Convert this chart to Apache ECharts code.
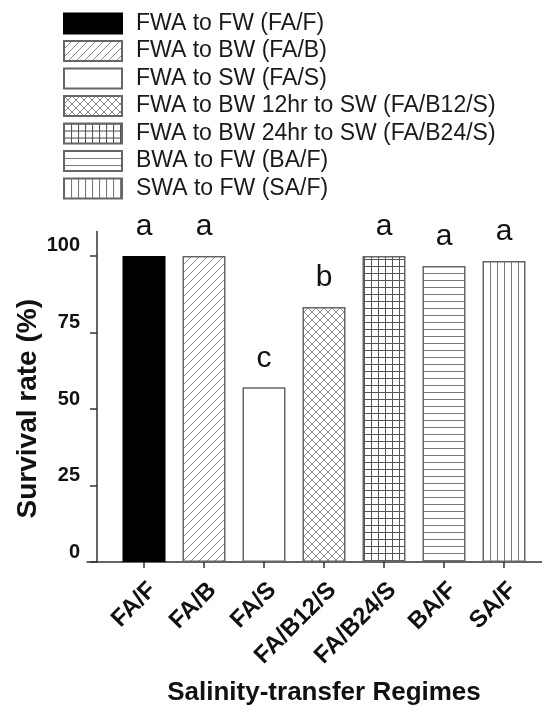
<!DOCTYPE html>
<html>
<head>
<meta charset="utf-8">
<style>
  html, body { margin: 0; padding: 0; background: #fff; }
  #chart { width: 542px; height: 710px; }
</style>
<script src="https://cdn.jsdelivr.net/npm/echarts@6/dist/echarts.min.js"></script>
</head>
<body>
<div id="chart"></div>
<script>
const categories = ["FA/F", "FA/B", "FA/S", "FA/B12/S", "FA/B24/S", "BA/F", "SA/F"];
const legendNames = [
  "FWA to FW (FA/F)",
  "FWA to BW (FA/B)",
  "FWA to SW (FA/S)",
  "FWA to BW 12hr to SW (FA/B12/S)",
  "FWA to BW 24hr to SW (FA/B24/S)",
  "BWA to FW (BA/F)",
  "SWA to FW (SA/F)",
];
const survival = [100, 100, 57.1, 83.3, 100, 96.7, 98.4];
const letters = ["a", "a", "c", "b", "a", "a", "a"];
const yTicks = [0, 25, 50, 75, 100];

const FONT = "'Liberation Sans', Arial, sans-serif";

// small tiles used as repeating fills for the hatched bars
function tile(w, h, draw) {
  const c = document.createElement("canvas");
  c.width = w;
  c.height = h;
  const ctx = c.getContext("2d");
  ctx.fillStyle = "#fff";
  ctx.fillRect(0, 0, w, h);
  draw(ctx, w, h);
  return { image: c, repeat: "repeat" };
}

function line(ctx, x1, y1, x2, y2) {
  ctx.beginPath();
  ctx.moveTo(x1, y1);
  ctx.lineTo(x2, y2);
  ctx.stroke();
}

const fills = [
  "#000",
  tile(8, 8, (ctx, w, h) => {
    ctx.strokeStyle = "#8a8a8a";
    ctx.lineWidth = 1;
    line(ctx, -1, h + 1, w + 1, -1);
    line(ctx, -1, 1, 1, -1);
    line(ctx, w - 1, h + 1, w + 1, h - 1);
  }),
  "#fff",
  tile(8, 8, (ctx, w, h) => {
    ctx.strokeStyle = "#8a8a8a";
    ctx.lineWidth = 1;
    line(ctx, -1, h + 1, w + 1, -1);
    line(ctx, -1, -1, w + 1, h + 1);
  }),
  tile(7, 7, (ctx, w, h) => {
    ctx.fillStyle = "#555";
    ctx.fillRect(0, 0, w, 1);
    ctx.fillRect(0, 0, 1, h);
  }),
  tile(7, 7, (ctx, w, h) => {
    ctx.fillStyle = "#777";
    ctx.fillRect(0, 0, w, 1);
  }),
  tile(7, 7, (ctx, w, h) => {
    ctx.fillStyle = "#777";
    ctx.fillRect(0, 0, 1, h);
  }),
];

const chart = echarts.init(document.getElementById("chart"), null, { renderer: "canvas" });

// one series per regime so every regime gets its own legend entry
const series = categories.map((cat, i) => ({
  name: legendNames[i],
  type: "bar",
  barWidth: 43,
  barGap: "-100%",
  data: categories.map((c, j) => (j === i ? survival[i] : "-")),
  itemStyle: {
    color: fills[i],
    borderColor: i === 0 ? "#000" : "#666",
    borderWidth: 1.5,
  },
  label: {
    show: true,
    position: "top",
    distance: 14,
    formatter: () => letters[i],
    fontFamily: FONT,
    fontSize: 30,
    color: "#111",
  },
}));

chart.setOption({
  backgroundColor: "#fff",
  animation: false,
  legend: {
    orient: "vertical",
    left: 58,
    top: 7,
    icon: "rect",
    itemWidth: 58,
    itemHeight: 20,
    itemGap: 4.5,
    data: legendNames,
    selectedMode: false,
    textStyle: {
      fontFamily: FONT,
      fontSize: 23,
      color: "#1a1a1a",
      padding: [0, 0, 0, 9],
    },
  },
  grid: [
    { left: 114, right: 8, top: 231.5, bottom: 148 },
    // wider twin grid only draws the long baseline
    { left: 87, right: 0, top: 231.5, bottom: 148 },
  ],
  xAxis: [
    {
      type: "category",
      data: categories,
      gridIndex: 0,
      axisLine: { show: false },
      axisTick: { show: true, alignWithLabel: true, length: 6, lineStyle: { color: "#333", width: 1.5 } },
      axisLabel: {
        rotate: 45,
        margin: 16,
        verticalAlign: "top",
        fontFamily: FONT,
        fontSize: 24,
        fontWeight: "bold",
        color: "#111",
      },
      name: "Salinity-transfer Regimes",
      nameLocation: "middle",
      nameGap: 118,
      nameMoveOverlap: false,
      nameTextStyle: { fontFamily: FONT, fontSize: 26, fontWeight: "bold", color: "#111" },
    },
    {
      type: "value",
      gridIndex: 1,
      axisLine: { show: true, onZero: false, lineStyle: { color: "#333", width: 1.5 } },
      axisTick: { show: false },
      axisLabel: { show: false },
      splitLine: { show: false },
    },
  ],
  yAxis: [
    {
      type: "value",
      gridIndex: 0,
      min: 0,
      max: 108,
      interval: 25,
      offset: 17,
      axisLine: { show: true, lineStyle: { color: "#333", width: 1.5 } },
      axisTick: { show: true, length: 7, customValues: yTicks, lineStyle: { color: "#333", width: 1.5 } },
      axisLabel: {
        customValues: yTicks,
        margin: 17,
        verticalAlign: "bottom",
        fontFamily: FONT,
        fontSize: 20,
        fontWeight: "bold",
        color: "#111",
      },
      splitLine: { show: false },
      name: "Survival rate (%)",
      nameLocation: "middle",
      nameGap: 55,
      nameMoveOverlap: false,
      nameTextStyle: {
        fontFamily: FONT,
        fontSize: 28,
        fontWeight: "bold",
        color: "#111",
        padding: [0, 24, 0, 0],
      },
    },
    { type: "value", gridIndex: 1, show: false },
  ],
  series: series,
});
</script>
</body>
</html>
